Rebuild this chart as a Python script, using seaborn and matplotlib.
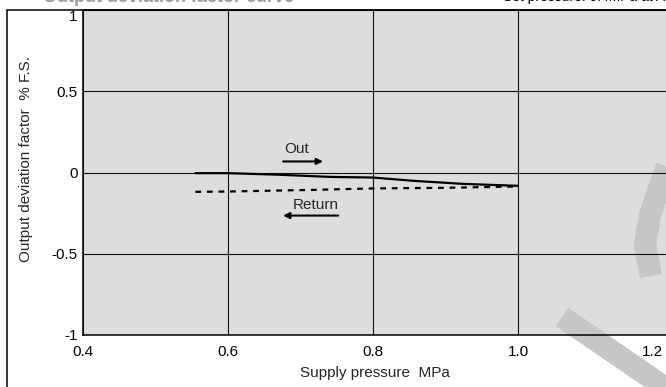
import pandas as pd
import seaborn as sns
import matplotlib.pyplot as plt
from matplotlib.lines import Line2D
from matplotlib.patches import Rectangle

# values
pressure_out = [0.555, 0.6, 0.672, 0.74, 0.8, 0.855, 0.924, 1.0]
deviation_out = [-0.004, -0.004, -0.014, -0.027, -0.031, -0.051, -0.07, -0.082]
pressure_return = [0.555, 0.6, 0.717, 0.8, 0.902, 1.0]
deviation_return = [-0.119, -0.117, -0.107, -0.098, -0.094, -0.086]

x_ticks = [0.4, 0.6, 0.8, 1.0, 1.2]
x_tick_labels = ["0.4", "0.6", "0.8", "1.0", "1.2"]
y_ticks = [-1, -0.5, 0, 0.5, 1]
y_tick_labels = ["-1", "-0.5", "0", "0.5", "1"]

df = pd.concat([
    pd.DataFrame({"pressure": pressure_out, "deviation": deviation_out, "direction": "Out"}),
    pd.DataFrame({"pressure": pressure_return, "deviation": deviation_return, "direction": "Return"}),
])

sns.set_theme(style="white")
plt.rcParams["font.family"] = ["Liberation Sans", "DejaVu Sans"]
plt.rcParams["axes.unicode_minus"] = False
plt.rcParams["font.size"] = 11

W, H = 666, 387
fig = plt.figure(figsize=(W / 100, H / 100), dpi=100)
ax = fig.add_axes([83 / W, 52 / H, 1 - 83 / W, (335 - 10) / H])
ax.set_facecolor("#dddddd")

sns.lineplot(
    data=df, x="pressure", y="deviation", style="direction",
    dashes={"Out": "", "Return": (2.6, 2.6)}, color="black",
    lw=1.6, legend=False, sort=False, ax=ax, zorder=3,
)

ax.set_xlim(0.4, 0.4 + 583 / 725)
ax.set_ylim(-1, 1)
ax.set_xticks(x_ticks)
ax.set_xticklabels(x_tick_labels)
ax.set_yticks(y_ticks)
ax.set_yticklabels(y_tick_labels)
ax.get_xticklabels()[-1].set_ha("right")
ax.get_yticklabels()[-1].set_va("top")
ax.tick_params(axis="both", length=0, labelsize=11, colors="black")
ax.tick_params(axis="x", pad=7)
ax.tick_params(axis="y", pad=4)

ax.set_axisbelow(False)
ax.grid(True, color="#111111", lw=0.8)
ax.get_xgridlines()[-1].set_visible(False)

for side in ["left", "bottom", "top"]:
    ax.spines[side].set_color("black")
    ax.spines[side].set_linewidth(1.1)
ax.spines["right"].set_visible(False)

ax.set_xlabel("Supply pressure  MPa", fontsize=11, labelpad=5)
ax.set_ylabel("Output deviation factor  % F.S.", fontsize=11)
ax.yaxis.set_label_coords(-50 / 583, 0.54)

# direction notes with arrows
ax.text(0.694, 0.142, "Out", ha="center", va="center", fontsize=11)
ax.annotate("", xy=(0.731, 0.068), xytext=(0.676, 0.068),
            arrowprops=dict(arrowstyle="-|>", color="black", lw=1.5,
                            mutation_scale=9, shrinkA=0, shrinkB=0))
ax.text(0.721, -0.203, "Return", ha="center", va="center", fontsize=11)
ax.annotate("", xy=(0.676, -0.265), xytext=(0.752, -0.265),
            arrowprops=dict(arrowstyle="-|>", color="black", lw=1.5,
                            mutation_scale=9, shrinkA=0, shrinkB=0))

# outer frame of the original sheet
fig.add_artist(Rectangle((7 / W, -0.1), 2, 1.1 - 10 / H, fill=False,
                         lw=1.1, edgecolor="black", transform=fig.transFigure))

# grey watermark strokes, behind the grid
def px(xs, ys):
    return [x / W for x in xs], [1 - y / H for y in ys]

for xs, ys in [([678, 662, 650, 645, 651], [138, 180, 215, 245, 276]),
               ([562, 692], [317, 406])]:
    fx, fy = px(xs, ys)
    ax.add_line(Line2D(fx, fy, transform=fig.transFigure, color="#c6c6c6",
                       lw=16, solid_capstyle="butt", clip_on=False, zorder=1.5))

# header texts cut off at the top edge of the crop
fig.text(43 / W, 1 - 1.5 / H, "Output deviation factor curve", fontsize=13,
         fontweight="bold", color="#999999", va="baseline")
fig.text(503 / W, 1 - 1.5 / H, "Set pressure: 0.4MPa at ATM", fontsize=10,
         color="black", va="baseline", ha="left")

fig.savefig("out.png", dpi=100)
